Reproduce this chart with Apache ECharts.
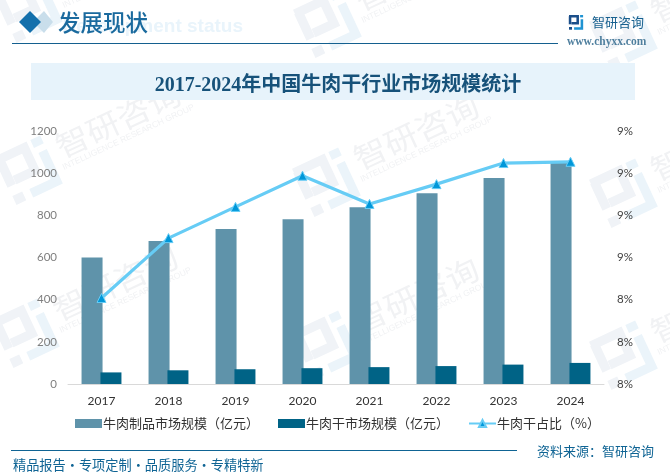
<!DOCTYPE html>
<html>
<head>
<meta charset="utf-8">
<style>html,body{margin:0;padding:0;background:#fff}#main{width:670px;height:476px}</style>
<script src="https://cdn.jsdelivr.net/npm/echarts@6/dist/echarts.min.js"></script>
</head>
<body>
<div id="main"></div>
<script>
var years = ['2017','2018','2019','2020','2021','2022','2023','2024'];
var productValues = [600,678,735,782,838,905,977,1048];
var jerkyValues = [55,65,70,75,80,85,92,100];
var shareValues = [8.404,8.546,8.62,8.694,8.627,8.674,8.724,8.727];
var seriesNames = ['牛肉制品市场规模（亿元）','牛肉干市场规模（亿元）','牛肉干占比（%）'];
// 水印位置
var markPositions = [[30,8],[329,23],[625,35],[30,170],[328,182],[625,193],[27,333],[328,345],[625,355]];

var cnFont = '"Noto Sans CJK SC"';
var blue = '#0f6494';

// 智研 logo, 一个 size 大小的方块
function logoShapes(x, y, size, c1, c2, z){
  var lw = size * 0.17;
  function pts(arr){
    return arr.map(function(p){ return [x + p[0] * size, y + p[1] * size]; });
  }
  function line(arr, c){
    return {type:'polyline', z:z, shape:{points:pts(arr)}, style:{stroke:c, fill:null, lineWidth:lw}};
  }
  function block(a, b, w, h, c){
    return {type:'rect', z:z, shape:{x:x + a * size, y:y + b * size, width:w * size, height:h * size}, style:{fill:c}};
  }
  return [
    line([[0,0.08],[0.58,0.08],[0.58,0.55],[0.16,0.55]], c1),
    line([[0.07,0.08],[0.07,0.62]], c1),
    block(0,0.8,0.2,0.18,c1),
    block(0.74,0,0.2,0.16,c2),
    line([[0.86,0.28],[0.86,0.9],[0.34,0.9]], c2)
  ];
}

function watermark(pos){
  var children = logoShapes(-27, -27, 54, '#f0f3f7', '#ebf4fa', 0);
  children.push({type:'text', z:0, x:101, y:-8, style:{text:'智研咨询', font:'30px ' + cnFont, fill:'#f1f2f4', align:'center', verticalAlign:'middle'}, scaleX:1.12});
  children.push({type:'text', z:0, x:103, y:12, style:{text:'INTELLIGENCE RESEARCH GROUP', font:'8.5px "Liberation Sans"', fill:'#f1f2f4', align:'center', verticalAlign:'middle'}});
  return {type:'group', x:pos[0], y:pos[1], rotation:25 * Math.PI / 180, children:children};
}

var elements = markPositions.map(watermark);

// 页眉
elements.push({type:'text', x:243, y:27, style:{text:'Development status', font:'bold 19px "Liberation Sans"', fill:'#e9f4fb', align:'right', verticalAlign:'middle'}});
elements.push({type:'polygon', shape:{points:[[44,11],[53,22],[44,33],[33,22]]}, style:{fill:'#c9deeb'}});
elements.push({type:'polygon', shape:{points:[[30,11],[41,22],[30,33],[19,22]]}, style:{fill:'#1470ac'}});
elements.push({type:'text', x:58, y:22, style:{text:'发展现状', font:'500 22.5px ' + cnFont, fill:'#1a6a9e', align:'left', verticalAlign:'middle'}});
elements.push({type:'rect', shape:{x:12, y:43, width:546, height:1}, style:{fill:'#14608f'}});
elements = elements.concat(logoShapes(569, 15, 15, '#1c4f8a', '#1f93d2', 1));
elements.push({type:'text', x:592, y:22, style:{text:'智研咨询', font:'13px ' + cnFont, fill:'#17608f', align:'left', verticalAlign:'middle'}});
elements.push({type:'text', x:567, y:42, style:{text:'www.chyxx.com', font:'bold 11.5px "Liberation Serif"', fill:'#4f7f9e', align:'left', verticalAlign:'middle'}});
// 标题底色
elements.push({type:'rect', shape:{x:31, y:63, width:604, height:37}, style:{fill:'#e7f3fb'}});
// 页脚
elements.push({type:'rect', shape:{x:11, y:450, width:506, height:1}, style:{fill:blue}});
elements.push({type:'text', x:537, y:451, style:{text:'资料来源：智研咨询', font:'13px ' + cnFont, fill:blue, align:'left', verticalAlign:'middle'}});
elements.push({type:'text', x:13, y:465, style:{text:'精品报告·专项定制·品质服务·专精特新', font:'13.2px ' + cnFont, fill:blue, align:'left', verticalAlign:'middle'}});

var chart = echarts.init(document.getElementById('main'), null, {renderer:'canvas'});
chart.setOption({
  animation:false,
  backgroundColor:'#fff',
  graphic:{elements:elements},
  title:{
    text:'2017-2024年中国牛肉干行业市场规模统计',
    left:333,
    top:81,
    textAlign:'center',
    textVerticalAlign:'middle',
    textStyle:{fontFamily:'"Liberation Serif",' + cnFont, fontSize:20, fontWeight:'bold', color:'#17527a'}
  },
  legend:{
    left:70,
    top:412,
    itemWidth:27,
    itemHeight:9,
    itemGap:19,
    textStyle:{fontFamily:cnFont, fontSize:13, color:'#333', padding:[0,0,0,-4]},
    data:[
      {name:seriesNames[0], icon:'rect'},
      {name:seriesNames[1], icon:'rect'},
      {name:seriesNames[2]}
    ]
  },
  grid:{left:68, right:66, top:131, bottom:92},
  xAxis:{
    type:'category',
    data:years,
    axisTick:{show:false},
    axisLine:{lineStyle:{color:'#d9d9d9', width:1}},
    axisLabel:{margin:11, fontFamily:'Lato', fontSize:12, color:'#333'}
  },
  yAxis:[
    {
      type:'value',
      min:0,
      max:1200,
      interval:200,
      splitLine:{show:false},
      axisLine:{show:false},
      axisTick:{show:false},
      axisLabel:{margin:11, fontFamily:'Lato', fontSize:11.5, color:'#7f7f7f', formatter:function(v){ return String(v); }}
    },
    {
      type:'value',
      min:8.2,
      max:8.8,
      interval:0.1,
      position:'right',
      splitLine:{show:false},
      axisLine:{show:false},
      axisTick:{show:false},
      axisLabel:{
        margin:13,
        fontFamily:'Lato',
        fontSize:11.5,
        color:'#404040',
        formatter:function(v){ return Math.round(Number(v.toFixed(1))) + '%'; }
      }
    }
  ],
  series:[
    {name:seriesNames[0], type:'bar', barWidth:21, barGap:'-10%', data:productValues, itemStyle:{color:'#5f93aa'}},
    {name:seriesNames[1], type:'bar', barWidth:21, data:jerkyValues, itemStyle:{color:'#006386'}},
    {
      name:seriesNames[2],
      type:'line',
      yAxisIndex:1,
      data:shareValues,
      symbol:'triangle',
      symbolSize:9,
      lineStyle:{color:'#66ccf5', width:3.2},
      itemStyle:{color:'#0097d9', borderColor:'#66ccf5', borderWidth:1}
    }
  ]
});
</script>
</body>
</html>
